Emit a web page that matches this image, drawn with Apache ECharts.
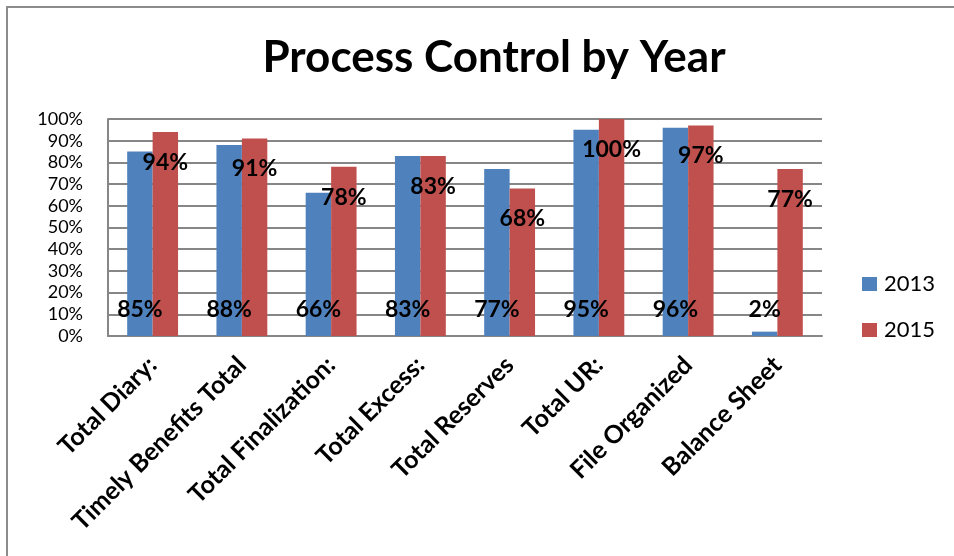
<!DOCTYPE html>
<html>
<head>
<meta charset="utf-8">
<script src="https://cdn.jsdelivr.net/npm/echarts@6/dist/echarts.min.js"></script>
<style>
html,body{margin:0;padding:0;background:#fff;}
#chart{width:954px;height:556px;}
</style>
</head>
<body>
<div id="chart"></div>
<script>
const categories = ['Total Diary:', 'Timely Benefits Total', 'Total Finalization:', 'Total Excess:', 'Total Reserves', 'Total UR:', 'File Organized', 'Balance Sheet'];
const values2013 = [85, 88, 66, 83, 77, 95, 96, 2];
const values2015 = [94, 91, 78, 83, 68, 100, 97, 77];
const yTicks = [0, 10, 20, 30, 40, 50, 60, 70, 80, 90, 100];
const seriesNames = ['2013', '2015'];

const FONT = 'Lato, "Open Sans", sans-serif';
const chart = echarts.init(document.getElementById('chart'), null, {renderer: 'canvas'});
chart.setOption({
  backgroundColor: '#ffffff',
  animation: false,
  title: {
    text: 'Process Control by Year',
    left: 489,
    textAlign: 'center',
    top: 31,
    textStyle: {fontFamily: FONT, fontWeight: 'bold', fontSize: 44, color: '#000'}
  },
  graphic: [{
    type: 'rect',
    shape: {x: 7, y: 7, width: 1000, height: 1000},
    style: {fill: 'none', stroke: '#8c8c8c', lineWidth: 2},
    silent: true
  }],
  legend: {
    orient: 'vertical',
    left: 862,
    top: 273,
    padding: 0,
    itemWidth: 15,
    itemHeight: 14,
    itemGap: 24,
    icon: 'rect',
    data: seriesNames,
    textStyle: {fontFamily: FONT, fontSize: 22, color: '#000', padding: [0, 0, 0, 2]}
  },
  grid: {left: 108, right: 132, top: 119, bottom: 220, containLabel: false},
  xAxis: {
    type: 'category',
    data: categories,
    axisLine: {show: true, lineStyle: {color: '#868686', width: 2}},
    axisTick: {show: false},
    axisLabel: {
      rotate: 45,
      interval: 0,
      margin: 25,
      fontFamily: FONT,
      fontWeight: 'bold',
      fontSize: 25,
      color: '#000'
    }
  },
  yAxis: {
    type: 'value',
    min: 0,
    max: 100,
    interval: 10,
    axisLine: {show: true, lineStyle: {color: '#868686', width: 2}},
    axisTick: {show: false},
    splitLine: {show: true, lineStyle: {color: '#868686', width: 2}},
    axisLabel: {
      margin: 25,
      fontFamily: FONT,
      fontSize: 18,
      color: '#000',
      formatter: v => (yTicks.indexOf(v) >= 0 ? v + '%' : '')
    }
  },
  series: [
    {
      name: seriesNames[0],
      type: 'bar',
      data: values2013,
      barGap: '0%',
      barCategoryGap: '43%',
      itemStyle: {color: '#4F81BD'},
      label: {
        show: true,
        position: 'insideBottom',
        distance: 15,
        formatter: p => p.value + '%',
        fontFamily: FONT,
        fontWeight: 'bold',
        fontSize: 23,
        color: '#000'
      }
    },
    {
      name: seriesNames[1],
      type: 'bar',
      data: values2015,
      barGap: '0%',
      barCategoryGap: '43%',
      itemStyle: {color: '#C0504D'},
      label: {
        show: true,
        position: 'insideTop',
        distance: 19,
        formatter: p => p.value + '%',
        fontFamily: FONT,
        fontWeight: 'bold',
        fontSize: 23,
        color: '#000'
      }
    }
  ]
});
</script>
</body>
</html>
